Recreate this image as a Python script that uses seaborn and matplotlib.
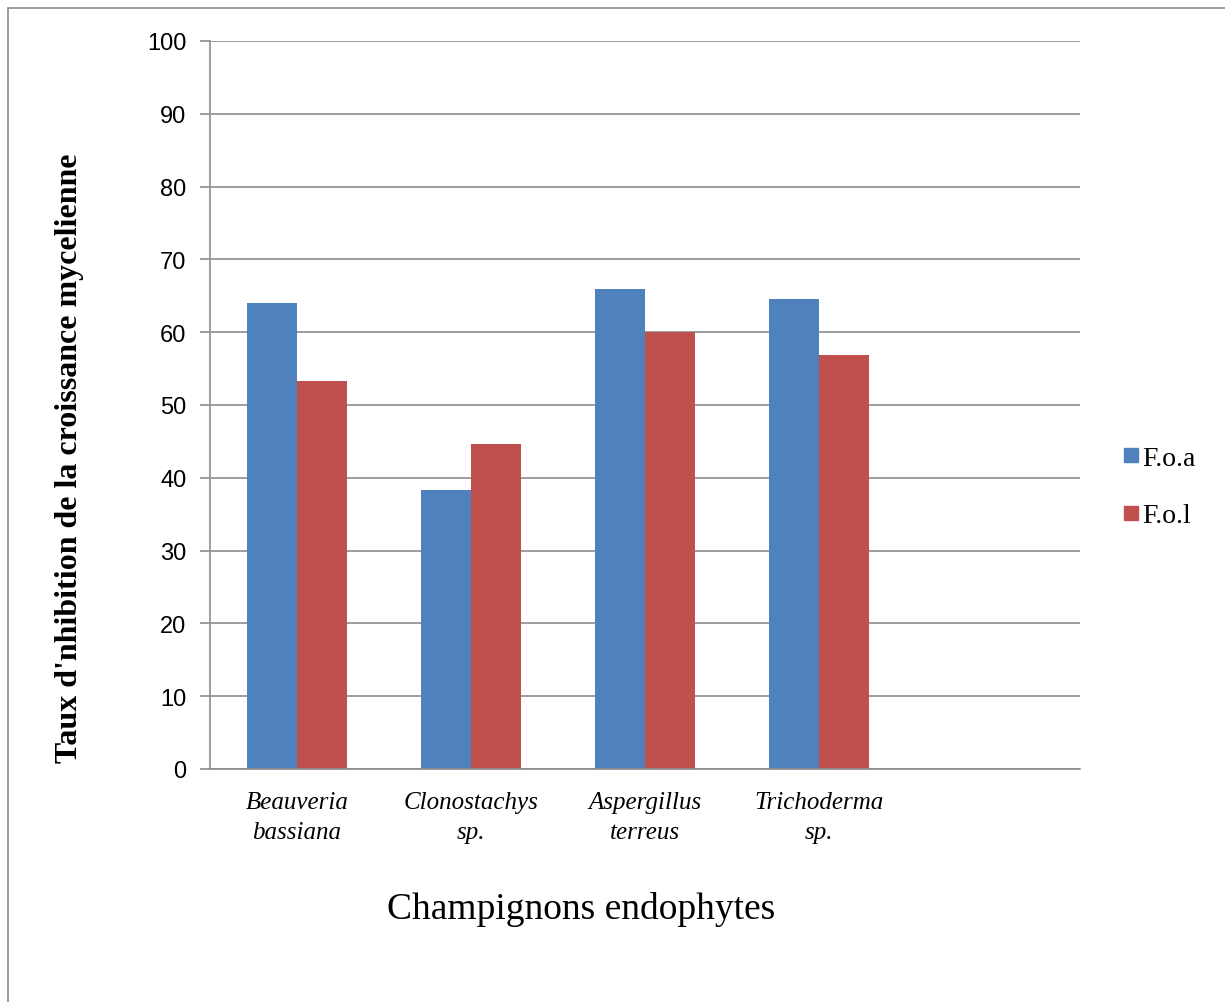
import matplotlib
matplotlib.use("Agg")
import matplotlib.pyplot as plt
import seaborn as sns
import pandas as pd
import numpy as np
from matplotlib.patches import Rectangle
from matplotlib.lines import Line2D

categories = ["Beauveria\nbassiana", "Clonostachys\nsp.", "Aspergillus\nterreus", "Trichoderma\nsp.", ""]
foa = [64.0, 38.3, 66.0, 64.6, np.nan]
fol = [53.3, 44.7, 60.0, 56.8, np.nan]
series = ["F.o.a", "F.o.l"]
colors = ["#4F81BD", "#C0504D"]
yticks = [0, 10, 20, 30, 40, 50, 60, 70, 80, 90, 100]

df = pd.DataFrame({
    "cat": categories * 2,
    "val": foa + fol,
    "serie": [series[0]] * len(categories) + [series[1]] * len(categories),
})

sns.set_theme(style="white")
plt.rcParams['font.family'] = ['Liberation Serif', 'DejaVu Serif']
plt.rcParams['text.color'] = 'black'
plt.rcParams['xtick.color'] = 'black'
plt.rcParams['ytick.color'] = 'black'

fig = plt.figure(figsize=(12.25, 10.03), dpi=100)
ax = fig.add_axes([210/1225, 1-770/1003, (1080-210)/1225, (770-42)/1003])

sns.barplot(data=df, x="cat", y="val", hue="serie", order=categories,
            hue_order=series, palette=colors, width=0.575, ax=ax,
            saturation=1, legend=False, edgecolor="none", linewidth=0)

ax.set_ylim(0, 100)
ax.set_xlim(-0.5, len(categories) - 0.5)
ax.set_yticks(yticks)
ax.set_yticklabels([str(v) for v in yticks], fontfamily="Liberation Sans", fontsize=17)
ax.yaxis.grid(True, color="#8C8C8C", linewidth=1.2)
ax.set_axisbelow(True)

ax.set_xticks(np.arange(len(categories)))
ax.set_xticklabels(categories, fontstyle="italic", fontsize=18, linespacing=1.45)
ax.tick_params(axis="x", length=0, pad=16)
ax.set_xticks(np.arange(-0.5, len(categories)), minor=True)
ax.tick_params(axis="x", which="minor", length=6, color="#8C8C8C", width=1.2, direction="out")
ax.tick_params(axis="y", length=7, color="#8C8C8C", width=1.2, direction="out", pad=10, left=True,
               labelcolor="black")

for s in ["top", "right"]:
    ax.spines[s].set_visible(False)
for s in ["left", "bottom"]:
    ax.spines[s].set_color("#8C8C8C")
    ax.spines[s].set_linewidth(1.2)

ax.set_xlabel("")
ax.set_ylabel("")
fig.text(70/1225, 1-458/1003, "Taux d'nhibition de la croissance mycelienne",
         rotation=90, ha="center", va="center", fontsize=23, fontweight="bold")
fig.text(581/1225, 1-910/1003, "Champignons endophytes", ha="center", va="center", fontsize=27)

handles = [Line2D([0], [0], marker="s", linestyle="none", markersize=10,
                  markerfacecolor=c, markeredgecolor=c) for c in colors]
fig.legend(handles, series, loc="center left", bbox_to_anchor=(1106/1225, 1-488/1003),
           frameon=False, fontsize=20, handletextpad=-0.1, labelspacing=1.15,
           handlelength=1.0, borderaxespad=0)

fig.patches.append(Rectangle((8/1225, -0.05), 1.2, 1-9/1003 + 0.05, transform=fig.transFigure,
                             fill=False, edgecolor="#8C8C8C", linewidth=1.2))

fig.savefig("out.png", dpi=100)
